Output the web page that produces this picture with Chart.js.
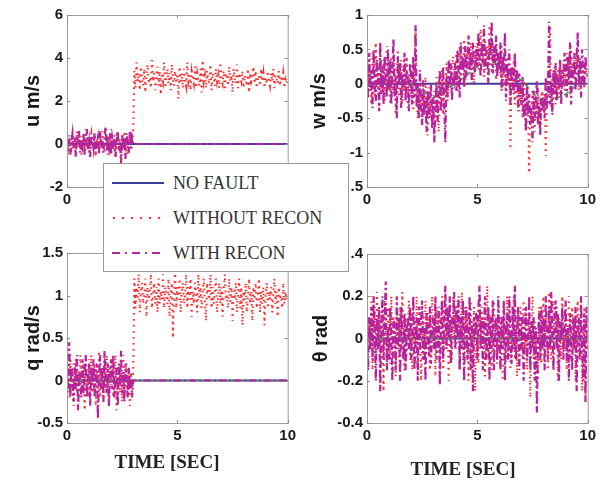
<!DOCTYPE html>
<html>
<head>
<meta charset="utf-8">
<script src="https://cdn.jsdelivr.net/npm/chart.js@4.4.1/dist/chart.umd.min.js"></script>
<style>
  body { margin: 0; background: #fff; width: 606px; height: 482px; position: relative; overflow: hidden; }
  canvas { position: absolute; }
  #legend {
    position: absolute; left: 103px; top: 163px; width: 244px; height: 107px;
    background: #fff; border: 1px solid #9a9a9a; z-index: 5;
    font: 18px "Liberation Serif", "Times New Roman", serif; color: #333;
  }
  #legend .row { position: absolute; left: 8px; height: 20px; display: flex; align-items: center; }
  #legend svg { margin-right: 9px; }
  .xtitle { position: absolute; font: bold 19px "Liberation Serif", "Times New Roman", serif; color: #222; white-space: nowrap; transform: translateX(-50%); }
</style>
</head>
<body>
<canvas id="uChart" width="300" height="240" style="left:0;top:0"></canvas>
<canvas id="wChart" width="300" height="240" style="left:300px;top:0"></canvas>
<canvas id="qChart" width="300" height="230" style="left:0;top:240px"></canvas>
<canvas id="thChart" width="300" height="230" style="left:300px;top:240px"></canvas>

<div id="legend">
  <div class="row" style="top:9px"><svg width="52" height="10"><line x1="0" y1="5" x2="52" y2="5" stroke="#3c3c9a" stroke-width="2"/></svg>NO FAULT</div>
  <div class="row" style="top:44px"><svg width="52" height="10"><line x1="1" y1="5" x2="52" y2="5" stroke="#ff2a2a" stroke-width="2" stroke-dasharray="2 7"/></svg>WITHOUT RECON</div>
  <div class="row" style="top:79px"><svg width="52" height="10"><line x1="0" y1="5" x2="52" y2="5" stroke="#b5249c" stroke-width="2" stroke-dasharray="8 5 2 5"/></svg>WITH RECON</div>
</div>
<div class="xtitle" style="left:167px;top:451px">TIME [SEC]</div>
<div class="xtitle" style="left:463px;top:458px">TIME [SEC]</div>

<script>
// sample step of all simulated series [s]
const dt = 0.05;

const timeTicks = [0, 5, 10];
const uTicks = [-2, 0, 2, 4, 6];
const uTickLabels = ['-2', '0', '2', '4', '6'];
const wTicks = [-1.5, -1, -0.5, 0, 0.5, 1];
const wTickLabels = ['.5', '-1', '-0.5', '0', '0.5', '1'];
const qTicks = [-0.5, 0, 0.5, 1, 1.5];
const qTickLabels = ['-0.5', '0', '0.5', '1', '1.5'];
const thTicks = [-0.4, -0.2, 0, 0.2, 0.4];
const thTickLabels = ['-0.4', '-0.2', '0', '0.2', '.4'];

// ---- u [m/s] ----
// with reconfiguration: noisy until the fault (t = 3 s), then held at zero
const uWith = [
  0.2,-0.3,0.4,-0.5,0.1,0.5,-0.2,0.3,-0.6,0.4,
  0.0,0.6,-0.4,0.2,-0.1,0.5,-0.5,0.3,0.7,-0.3,
  0.1,-0.6,0.4,0.2,-0.2,0.5,-0.4,0.0,0.3,-0.5,
  0.6,-0.1,0.2,-0.4,0.4,0.8,-0.3,0.1,-0.2,0.5,
  -0.5,0.3,0.0,0.4,-0.6,0.2,0.6,-0.3,0.1,-0.9,
  0.4,-0.2,0.3,-0.7,0.5,0.0,-0.4,0.6,-0.2,0.3,
  0.0
];
const uWithout = [
  0.1,-0.2,0.3,0.0,-0.4,0.5,-0.1,0.2,-0.3,0.6,
  -0.2,0.1,0.4,-0.5,0.2,0.0,-0.3,0.7,-0.1,0.3,
  -0.4,0.2,0.5,-0.2,0.0,0.4,-0.6,0.3,0.1,-0.3,
  0.5,-0.2,0.6,0.0,-0.4,0.3,0.2,-0.5,0.4,-0.1,
  0.7,-0.3,0.2,0.0,-0.6,0.5,-0.2,0.3,0.1,-0.8,
  0.4,-0.3,0.6,-0.1,0.2,-0.5,0.3,0.0,0.5,-0.2,
  0.6,
  3.4,2.6,3.8,2.9,3.3,2.5,3.6,3.0,2.7,3.5,
  2.4,3.2,3.7,2.8,3.1,2.6,3.9,2.9,3.3,2.5,
  3.0,3.6,2.7,3.4,2.3,3.2,2.9,3.8,2.6,3.1,
  3.5,2.8,3.3,2.5,3.7,3.0,2.7,3.4,2.9,3.2,
  2.1,3.6,2.8,3.3,2.6,3.5,3.0,2.7,3.8,2.9,
  3.2,2.5,3.4,3.1,2.8,3.6,2.6,3.3,3.0,2.7,
  3.5,2.4,3.9,2.9,3.2,2.6,3.4,3.0,2.8,3.7,
  2.5,3.3,3.1,2.7,3.5,2.9,3.2,2.6,3.8,3.0,
  2.8,3.4,2.5,3.3,3.1,2.7,3.6,2.9,3.2,2.4,
  3.5,3.0,2.8,3.7,2.6,3.3,3.1,2.9,3.4,2.6,
  3.2,3.0,2.7,3.5,2.4,3.3,2.9,3.1,3.6,2.8,
  3.4,2.6,3.0,3.2,2.7,3.5,2.9,3.3,2.6,3.1,
  2.8,3.4,3.0,2.7,3.3,2.9,3.5,2.6,3.2,3.0,
  2.8,3.4,2.7,3.1,2.9,3.3,2.6,3.0,2.8,3.1
];

// ---- w [m/s] ----
const wWith = [
  0.3,-0.2,0.45,-0.1,0.2,-0.35,0.5,0.0,-0.25,0.35,0.1,-0.4,0.6,-0.15,0.25,-0.3,0.4,0.05,-0.2,0.5,
  -0.1,0.35,-0.3,0.2,0.65,-0.2,0.1,-0.5,0.4,0.0,0.3,-0.35,0.15,-0.1,0.45,-0.25,0.2,0.05,-0.4,0.3,
  0.1,-0.3,0.4,-0.2,0.85,-0.35,0.0,-0.5,0.2,-0.3,-0.6,0.05,-0.45,-0.2,-0.7,-0.1,-0.5,-0.3,0.0,-0.65,
  -0.2,-0.85,-0.4,0.0,-0.55,-0.15,0.2,-0.4,-0.1,0.25,-0.3,-0.85,0.1,-0.2,0.35,-0.05,0.3,-0.25,0.15,0.05,
  0.3,-0.1,0.5,0.15,-0.2,0.6,0.2,0.4,-0.05,0.55,0.1,0.35,0.7,0.2,0.45,0.0,0.6,0.3,0.15,0.5,
  0.25,0.75,0.4,0.1,0.6,0.3,0.85,0.2,0.5,0.35,0.0,0.65,0.4,0.9,0.15,0.55,0.3,0.7,0.1,0.45,
  0.2,0.6,-0.1,0.4,0.15,0.75,-0.2,0.3,0.05,0.5,-0.3,0.25,0.1,-0.15,0.45,-0.05,0.2,-0.4,0.15,-0.1,
  -0.3,0.1,-0.5,-0.2,-0.7,0.0,-0.45,-0.15,-0.6,-0.35,-0.85,-0.1,-0.5,-0.25,0.05,-0.6,-0.3,-0.75,-0.15,-0.4,
  -0.2,-0.5,0.1,-0.35,-0.1,0.9,-0.3,0.0,-0.45,0.2,-0.15,0.3,-0.25,0.1,-0.05,0.35,-0.3,0.2,0.0,0.45,
  0.15,-0.2,0.4,0.05,0.6,-0.3,0.25,0.1,0.45,-0.1,0.3,0.75,0.0,0.35,-0.2,0.5,0.15,-0.05,0.4,0.2,
  0.1
];
const wWithout = [
  0.5,-0.15,0.3,0.0,-0.3,0.45,0.1,-0.2,0.6,-0.05,0.25,-0.35,0.4,0.15,-0.1,0.35,-0.25,0.2,0.55,-0.05,
  0.2,-0.3,0.4,0.05,-0.15,0.3,-0.45,0.15,0.5,-0.2,0.1,0.35,-0.3,0.25,0.0,-0.1,0.4,-0.35,0.15,0.05,
  -0.2,0.3,-0.4,0.1,0.8,-0.25,-0.5,0.0,-0.35,-0.1,-0.6,-0.2,-0.45,0.1,-0.3,-0.75,-0.05,-0.5,-0.25,-0.4,
  -0.6,-0.1,-0.4,0.1,-0.3,-0.7,0.0,-0.2,0.2,-0.45,0.05,-0.15,0.3,-0.25,0.1,0.35,-0.05,0.2,0.4,0.0,
  0.15,0.45,-0.1,0.3,0.55,0.05,0.4,0.2,0.65,-0.05,0.35,0.5,0.1,0.3,0.6,0.25,0.45,0.0,0.55,0.35,
  0.6,0.2,0.5,0.8,0.3,0.45,0.1,0.65,0.35,0.55,0.25,0.85,0.4,0.15,0.6,0.3,0.5,0.05,0.4,0.25,
  0.45,0.1,0.55,-0.05,0.3,0.2,-0.25,0.4,0.0,0.15,-0.95,0.25,-0.1,0.35,-0.3,0.1,-0.2,0.05,-0.4,0.0,
  -0.2,-0.5,0.05,-0.35,-0.65,-0.15,-0.45,-1.3,-0.3,-0.55,-0.1,-0.4,-0.7,-0.2,-0.5,-0.05,-0.35,-0.6,-0.25,-0.1,
  -0.4,-0.15,-1.05,-0.3,0.05,-0.2,0.85,-0.35,0.1,-0.1,0.25,-0.3,0.0,0.2,-0.15,0.35,-0.05,0.15,0.3,-0.1,
  0.2,0.45,0.0,0.3,-0.15,0.55,0.1,0.35,-0.05,0.25,0.5,0.15,-0.1,0.4,0.05,0.3,0.2,-0.05,0.35,0.15,
  0.1
];
// estimated w (green dashed), one value per second
const wEstimate = [0, 0.05, 0.0, -0.2, 0.0, 0.25, 0.3, 0.05, -0.3, -0.15, 0.1];

// ---- q [rad/s] ----
const qWith = [
  0.1,-0.1,0.45,-0.2,0.15,0.0,-0.25,0.2,-0.1,0.3,
  -0.35,0.1,0.05,-0.2,0.25,-0.15,0.1,0.3,-0.2,0.0,
  0.2,-0.3,0.15,-0.05,0.25,-0.2,0.1,0.2,-0.45,0.05,
  0.3,-0.1,0.15,-0.25,0.35,0.0,-0.15,0.2,-0.3,0.1,
  0.25,-0.1,0.3,-0.2,0.05,0.15,-0.3,0.2,-0.05,0.35,
  -0.15,0.1,-0.25,0.2,0.0,-0.2,0.15,-0.1,0.05,-0.2,
  0.0
];
const qWithout = [
  0.0,0.15,-0.2,0.3,-0.1,0.2,-0.3,0.05,0.25,-0.15,
  0.1,-0.25,0.3,0.0,-0.1,0.2,-0.35,0.15,0.1,-0.2,
  0.25,-0.05,0.3,-0.15,0.0,0.2,-0.3,0.1,-0.1,0.35,
  -0.2,0.05,0.15,-0.25,0.2,-0.1,0.3,0.0,-0.3,0.15,
  -0.05,0.25,-0.2,0.1,0.3,-0.35,0.05,0.2,-0.15,0.1,
  -0.25,0.3,-0.1,0.05,0.2,-0.2,0.15,-0.3,0.1,-0.1,
  0.1,
  1.2,0.85,1.1,0.95,1.25,0.8,1.05,1.15,0.9,1.0,
  1.2,0.75,1.1,0.95,1.05,1.25,0.85,1.0,1.15,0.9,
  1.1,0.8,1.2,0.9,1.05,0.95,1.25,0.85,1.1,1.0,
  0.9,1.2,0.75,1.05,1.15,0.5,1.0,1.3,0.85,1.1,
  0.95,1.2,0.8,1.05,1.15,0.9,1.0,1.25,0.85,1.1,
  0.95,1.2,0.75,1.05,0.9,1.15,1.0,0.8,1.25,0.95,
  1.1,0.85,1.05,1.2,0.9,0.7,1.15,1.0,0.95,1.25,
  0.85,1.1,0.9,1.05,1.2,0.8,1.0,1.15,0.9,1.1,
  0.75,1.05,1.25,0.95,1.0,0.85,1.2,0.9,1.1,0.7,
  1.05,0.95,1.15,0.8,1.0,1.2,0.85,1.1,0.65,1.05,
  0.95,1.15,0.8,1.0,1.2,0.9,1.05,0.7,1.1,0.95,
  1.15,0.85,1.0,1.2,0.8,1.05,0.9,1.1,0.65,1.0,
  1.15,0.85,1.05,0.95,1.1,0.8,1.0,1.2,0.9,1.05,
  0.75,1.1,0.95,1.0,0.85,1.15,0.9,1.05,0.95,1.0
];

// ---- theta [rad] ----
const thWith = [
  0.05,-0.15,0.1,-0.05,0.15,-0.1,0.2,0.0,-0.2,0.1,-0.05,0.15,-0.25,0.05,0.2,-0.1,0.1,0.27,-0.15,0.05,
  -0.1,0.15,0.0,-0.2,0.1,0.05,-0.15,0.2,-0.05,0.1,-0.2,0.15,0.0,-0.1,0.12,-0.15,0.05,0.1,-0.05,0.15,
  -0.1,0.05,0.2,-0.15,0.0,0.1,-0.2,0.15,-0.05,0.08,0.18,-0.1,0.05,-0.2,0.12,0.0,-0.08,0.15,-0.12,0.05,
  0.1,-0.05,0.2,-0.1,0.0,0.15,-0.22,0.05,0.18,-0.1,0.1,0.25,-0.05,0.15,0.0,0.2,-0.12,0.1,0.05,0.22,
  -0.05,0.15,0.0,0.2,-0.15,0.1,-0.05,0.18,-0.2,0.05,0.15,-0.1,0.0,0.2,-0.15,0.08,-0.25,0.1,0.0,0.12,
  -0.1,0.15,0.25,-0.05,0.1,-0.15,0.05,0.2,-0.1,0.0,0.15,-0.2,0.1,-0.05,0.18,-0.15,0.05,0.1,-0.1,0.2,
  0.0,-0.15,0.1,-0.05,0.18,-0.2,0.05,0.12,-0.1,0.2,0.0,-0.12,0.15,-0.05,0.25,-0.1,0.05,0.15,-0.15,0.1,
  -0.05,0.12,-0.2,0.05,0.15,-0.1,0.0,0.2,-0.15,0.08,-0.05,0.1,-0.2,0.05,-0.35,0.0,0.12,-0.1,0.15,-0.05,
  0.1,-0.15,0.2,0.0,-0.1,0.15,-0.05,0.22,0.05,-0.15,0.1,0.18,-0.05,0.12,-0.2,0.08,0.0,0.15,-0.1,0.05,
  0.18,-0.1,0.05,-0.2,0.12,0.0,-0.15,0.1,-0.05,0.15,-0.25,0.05,0.1,-0.1,0.2,-0.05,-0.2,0.12,-0.3,0.15,
  -0.05
];
const thWithout = [
  -0.1,0.1,0.05,-0.05,0.2,-0.15,0.0,0.15,-0.1,0.22,-0.05,0.1,-0.2,0.12,0.0,-0.25,0.18,0.05,-0.1,0.15,
  0.05,-0.12,0.2,-0.05,0.1,0.0,-0.18,0.12,0.05,-0.1,0.15,-0.05,0.22,0.0,-0.15,0.1,-0.08,0.05,0.18,-0.1,
  0.12,-0.15,0.0,0.1,-0.05,0.2,-0.12,0.05,0.15,-0.2,0.0,0.1,-0.1,0.18,-0.05,0.12,0.0,-0.15,0.08,0.2,
  -0.05,0.1,-0.18,0.15,0.0,0.12,-0.1,0.05,0.2,-0.15,0.0,0.18,-0.05,0.1,-0.2,0.15,0.05,-0.1,0.2,0.0,
  0.12,-0.05,0.18,0.05,-0.15,0.1,0.22,-0.1,0.0,0.15,-0.05,0.12,-0.2,0.05,0.18,0.0,-0.1,0.15,-0.25,0.05,
  0.1,-0.12,0.2,0.0,0.15,-0.05,0.1,-0.18,0.05,0.25,-0.1,0.12,0.0,-0.15,0.1,0.18,-0.05,0.05,-0.12,0.15,
  -0.05,0.1,0.0,-0.2,0.15,0.05,-0.1,0.2,-0.05,0.12,-0.15,0.0,0.1,0.2,-0.1,0.05,-0.18,0.12,0.0,0.15,
  0.05,-0.1,0.18,-0.05,0.1,-0.15,0.0,0.12,-0.28,0.05,0.2,-0.1,0.08,-0.05,0.0,-0.2,0.15,0.05,-0.12,0.1,
  0.2,-0.05,0.1,0.0,-0.15,0.22,0.05,-0.1,0.12,0.18,-0.05,0.0,0.15,-0.2,0.1,0.05,-0.1,0.2,0.0,-0.05,
  0.12,-0.15,0.05,0.2,-0.1,0.0,0.15,-0.05,0.1,-0.2,0.05,0.18,-0.1,0.0,0.12,-0.25,0.05,0.15,-0.27,0.05,
  0.0
];

const BLUE = '#3c3c9a', RED = '#ff2a2a', MAGENTA = '#b5249c', GREEN = '#2fb050';
const tickFont = { family: 'Liberation Sans, Arial, sans-serif', size: 15, weight: 'bold' };

function toPoints(values) {
    return values.map((v, i) => ({ x: i * dt, y: v }));
}

// recon series stop being noisy at the fault time and stay at zero
function reconPoints(values) {
    return toPoints(values).concat([{ x: 10, y: 0 }]);
}

const boxPlugin = {
    id: 'box',
    afterDraw(chart) {
        const { ctx, chartArea: a, scales } = chart;
        ctx.save();
        ctx.strokeStyle = '#9c9c9c';
        ctx.lineWidth = 1;
        ctx.strokeRect(a.left + 0.5, a.top + 0.5, a.right - a.left, a.bottom - a.top);
        ctx.strokeStyle = '#8a8a8a';
        ctx.beginPath();
        scales.x.ticks.forEach(t => {
            const px = Math.round(scales.x.getPixelForValue(t.value)) + 0.5;
            ctx.moveTo(px, a.bottom); ctx.lineTo(px, a.bottom - 3);
            ctx.moveTo(px, a.top); ctx.lineTo(px, a.top + 3);
        });
        scales.y.ticks.forEach(t => {
            const py = Math.round(scales.y.getPixelForValue(t.value)) + 0.5;
            ctx.moveTo(a.left, py); ctx.lineTo(a.left + 3, py);
            ctx.moveTo(a.right, py); ctx.lineTo(a.right - 3, py);
        });
        ctx.stroke();
        ctx.restore();
    }
};

function makeChart(id, cfg) {
    const datasets = [];
    datasets.push({ label: 'WITH RECON', data: cfg.withRecon, borderColor: MAGENTA, borderWidth: 2.2, borderDash: [7, 3, 2, 3], order: 1 });
    if (cfg.estimate) {
        datasets.push({ data: cfg.estimate, borderColor: GREEN, borderWidth: 1.6, borderDash: [6, 4], order: 2 });
    }
    datasets.push({ label: 'WITHOUT RECON', data: cfg.withoutRecon, borderColor: RED, borderWidth: 2, borderDash: [1.6, 4.4], order: 3 });
    datasets.push({ label: 'NO FAULT', data: [{ x: 0, y: 0 }, { x: 10, y: 0 }], borderColor: BLUE, borderWidth: 2, order: 4 });

    return new Chart(document.getElementById(id), {
        type: 'line',
        data: { datasets: datasets },
        plugins: [boxPlugin],
        options: {
            responsive: false,
            animation: false,
            devicePixelRatio: 1,
            elements: { point: { radius: 0 }, line: { tension: 0, fill: false } },
            layout: { padding: cfg.padding },
            plugins: { legend: { display: false }, tooltip: { enabled: false } },
            scales: {
                x: {
                    type: 'linear', min: 0, max: 10,
                    grid: { display: false, drawTicks: false },
                    border: { display: false },
                    afterBuildTicks: s => { s.ticks = timeTicks.map(v => ({ value: v })); },
                    afterFit: s => { s.height = 25; },
                    ticks: { font: tickFont, color: '#1a1a1a', padding: 4, maxRotation: 0,
                             callback: v => String(v) }
                },
                y: {
                    min: cfg.ticks[0], max: cfg.ticks[cfg.ticks.length - 1],
                    grid: { display: false, drawTicks: false },
                    border: { display: false },
                    afterBuildTicks: s => { s.ticks = cfg.ticks.map(v => ({ value: v })); },
                    afterFit: s => { s.width = 67; },
                    ticks: { font: tickFont, color: '#1a1a1a', padding: 4,
                             callback: (v, i) => cfg.tickLabels[i] },
                    title: { display: true, text: cfg.title, color: '#1a1a1a',
                             font: { family: 'Liberation Sans, Arial, sans-serif', size: 20, weight: 'bold' },
                             padding: { top: cfg.titlePad, bottom: 0 } }
                }
            }
        }
    });
}

makeChart('uChart', {
    withRecon: reconPoints(uWith),
    withoutRecon: toPoints(uWithout),
    ticks: uTicks, tickLabels: uTickLabels, title: 'u m/s', titlePad: 21,
    padding: { left: 0, top: 15, right: 10, bottom: 28 }
});
makeChart('wChart', {
    withRecon: toPoints(wWith),
    withoutRecon: toPoints(wWithout),
    estimate: wEstimate.map((v, i) => ({ x: i, y: v })),
    ticks: wTicks, tickLabels: wTickLabels, title: 'w m/s', titlePad: 7,
    padding: { left: 0, top: 15, right: 12, bottom: 28 }
});
makeChart('qChart', {
    withRecon: reconPoints(qWith),
    withoutRecon: toPoints(qWithout),
    estimate: [{ x: 0, y: 0 }, { x: 10, y: 0 }],
    ticks: qTicks, tickLabels: qTickLabels, title: 'q rad/s', titlePad: 21,
    padding: { left: 0, top: 13, right: 8, bottom: 22 }
});
makeChart('thChart', {
    withRecon: toPoints(thWith),
    withoutRecon: toPoints(thWithout),
    estimate: [{ x: 0, y: 0 }, { x: 10, y: 0 }],
    ticks: thTicks, tickLabels: thTickLabels, title: 'θ rad', titlePad: 9,
    padding: { left: 0, top: 14, right: 12, bottom: 22 }
});
</script>
</body>
</html>
